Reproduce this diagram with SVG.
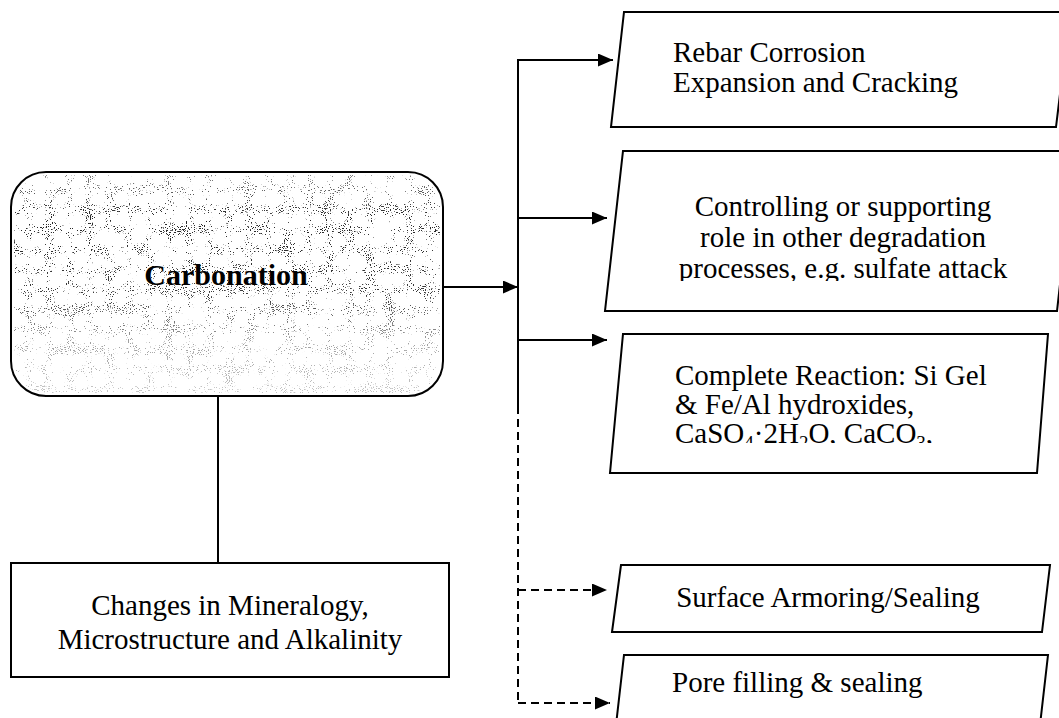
<svg xmlns="http://www.w3.org/2000/svg" width="1059" height="718" viewBox="0 0 1059 718">
<style>
.box{fill:#fff;stroke:#000;stroke-width:2;stroke-linejoin:miter}
.ln{fill:none;stroke:#000;stroke-width:2}
.dash{stroke-dasharray:8,5}
.t{font-family:"Liberation Serif","Times New Roman",serif;font-size:29px;fill:#000}
.c{text-anchor:middle}
.b{font-weight:bold;font-size:30px}
</style>
<defs>
<marker id="ah" markerUnits="userSpaceOnUse" markerWidth="15" markerHeight="13" refX="15" refY="6.5" orient="auto">
<path d="M0,0 L15,6.5 L0,13 z" fill="#000"/>
</marker>
<filter id="speckle" x="0" y="0" width="100%" height="100%" color-interpolation-filters="sRGB">
<feTurbulence type="fractalNoise" baseFrequency="0.95" numOctaves="1" seed="11" result="fine"/>
<feTurbulence type="fractalNoise" baseFrequency="0.05" numOctaves="2" seed="5" result="coarse"/>
<feComposite in="fine" in2="coarse" operator="arithmetic" k1="0" k2="0.78" k3="0.22" k4="0" result="mix"/>
<feColorMatrix in="mix" type="matrix" values="0 0 0 0 0.15  0 0 0 0 0.15  0 0 0 0 0.15  24 0 0 0 -14.9"/>
</filter>
<linearGradient id="dens" x1="0" y1="0" x2="0" y2="1">
<stop offset="0" stop-color="#fff" stop-opacity="0.55"/>
<stop offset="0.2" stop-color="#fff" stop-opacity="1"/>
<stop offset="0.55" stop-color="#fff" stop-opacity="0.9"/>
<stop offset="0.75" stop-color="#fff" stop-opacity="0.45"/>
<stop offset="1" stop-color="#fff" stop-opacity="0.25"/>
</linearGradient>
<mask id="densMask" maskUnits="userSpaceOnUse" x="11" y="172" width="432" height="224">
<rect x="11" y="172" width="432" height="224" fill="url(#dens)"/>
</mask>
<clipPath id="carbClip"><rect x="14" y="175" width="426" height="218" rx="33"/></clipPath>
<clipPath id="clip2"><rect x="600" y="150" width="459" height="131"/></clipPath>
<clipPath id="clip3"><rect x="600" y="333" width="459" height="110"/></clipPath>
</defs>

<g id="connectors">
<line class="ln" x1="218" y1="396" x2="218" y2="563"/>
<line class="ln" x1="443" y1="287" x2="518" y2="287" marker-end="url(#ah)"/>
<line class="ln" x1="518" y1="59" x2="518" y2="406"/>
<line class="ln dash" x1="518" y1="406" x2="518" y2="703"/>
<line class="ln" x1="517" y1="60" x2="613" y2="60" marker-end="url(#ah)"/>
<line class="ln" x1="517" y1="218" x2="607" y2="218" marker-end="url(#ah)"/>
<line class="ln" x1="517" y1="340" x2="607" y2="340" marker-end="url(#ah)"/>
<line class="ln dash" x1="518" y1="590" x2="607" y2="590" marker-end="url(#ah)"/>
<line class="ln dash" x1="518" y1="703" x2="610" y2="703" marker-end="url(#ah)"/>
</g>

<g id="carbonation">
<rect class="box" x="11" y="172" width="432" height="224" rx="35"/>
<g clip-path="url(#carbClip)" mask="url(#densMask)">
<rect x="11" y="172" width="432" height="224" filter="url(#speckle)"/>
</g>
<text class="t c b" x="226" y="285">Carbonation</text>
</g>

<g id="changes">
<rect class="box" x="11" y="563" width="438" height="114"/>
<text class="t c" x="230" y="615">Changes in Mineralogy,</text>
<text class="t c" x="230" y="649">Microstructure and Alkalinity</text>
</g>

<g id="rebar">
<polygon class="box" points="624,12 1070,12 1056,127 611,127"/>
<text class="t" x="673" y="62">Rebar Corrosion</text>
<text class="t" x="673" y="92">Expansion and Cracking</text>
</g>

<g id="controlling">
<polygon class="box" points="623,151 1075,151 1057,311 605,311"/>
<g clip-path="url(#clip2)">
<text class="t c" x="843" y="216">Controlling or supporting</text>
<text class="t c" x="843" y="247">role in other degradation</text>
<text class="t c" x="843" y="278">processes, e.g. sulfate attack</text>
</g>
</g>

<g id="complete">
<polygon class="box" points="623,334 1048,334 1037,473 610,473"/>
<g clip-path="url(#clip3)">
<text class="t" x="675" y="385">Complete Reaction: Si Gel</text>
<text class="t" x="675" y="414">&amp; Fe/Al hydroxides,</text>
<text class="t" x="675" y="443">CaSO<tspan font-size="19" dy="6">4</tspan><tspan dy="-6">·2H</tspan><tspan font-size="19" dy="6">2</tspan><tspan dy="-6">O, CaCO</tspan><tspan font-size="19" dy="6">3</tspan><tspan dy="-6">,</tspan></text>
</g>
</g>

<g id="surface">
<polygon class="box" points="621,565 1050,565 1042,632 612,632"/>
<text class="t c" x="828" y="607">Surface Armoring/Sealing</text>
</g>

<g id="pore">
<polygon class="box" points="624,655 1048,655 1040,725 616,725"/>
<text class="t" x="672" y="692">Pore filling &amp; sealing</text>
</g>
</svg>
